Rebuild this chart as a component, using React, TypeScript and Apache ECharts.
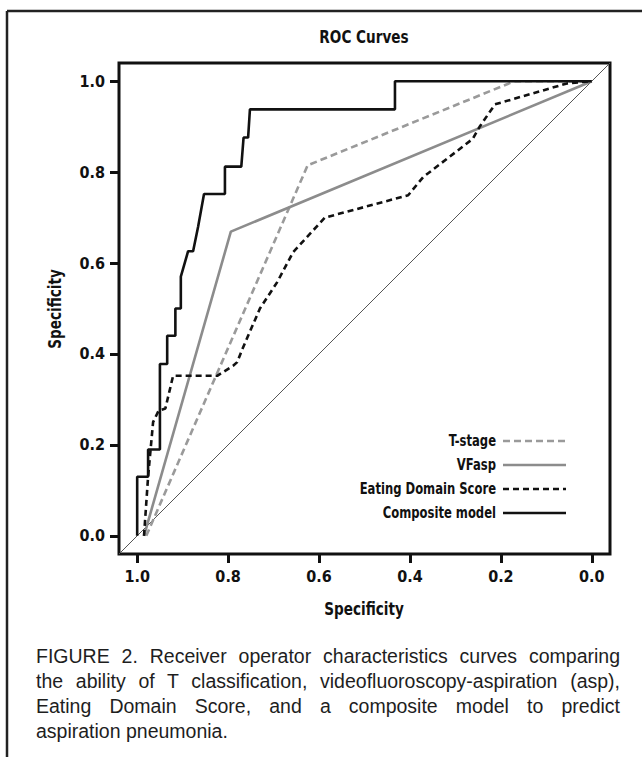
import React, { useEffect, useRef } from "react";
import * as echarts from "echarts";

const FONT = "'DejaVu Sans Condensed', 'DejaVu Sans', sans-serif";
const CAPTION_FONT = "'Liberation Sans', Arial, sans-serif";

const chartTitle = "ROC Curves";
const xAxisName = "Specificity";
const yAxisName = "Specificity";
const tickValues = [0, 0.2, 0.4, 0.6, 0.8, 1.0];

const seriesNames = ["T-stage", "VFasp", "Eating Domain Score", "Composite model"];

// [specificity (x, reversed), y]
const tStage = [
  [0.98, 0.0],
  [0.625, 0.815],
  [0.17, 1.0],
  [0.0, 1.0],
];

const vfAsp = [
  [0.985, 0.0],
  [0.794, 0.669],
  [0.0, 1.0],
];

const eatingDomain = [
  [0.985, 0.0],
  [0.976, 0.13],
  [0.965, 0.25],
  [0.953, 0.275],
  [0.938, 0.28],
  [0.921, 0.352],
  [0.824, 0.352],
  [0.789, 0.374],
  [0.78, 0.382],
  [0.769, 0.41],
  [0.73, 0.5],
  [0.692, 0.558],
  [0.657, 0.624],
  [0.587, 0.7],
  [0.404, 0.749],
  [0.371, 0.789],
  [0.319, 0.829],
  [0.262, 0.873],
  [0.246, 0.901],
  [0.213, 0.949],
  [0.055, 0.995],
  [0.0, 1.0],
];

const composite = [
  [1.0, 0.0],
  [1.0, 0.13],
  [0.976, 0.13],
  [0.976, 0.19],
  [0.95, 0.19],
  [0.95, 0.378],
  [0.934, 0.378],
  [0.934, 0.44],
  [0.916, 0.44],
  [0.916, 0.5],
  [0.904, 0.5],
  [0.904, 0.57],
  [0.888, 0.626],
  [0.877, 0.626],
  [0.866, 0.68],
  [0.853, 0.752],
  [0.807, 0.752],
  [0.807, 0.812],
  [0.771, 0.812],
  [0.766, 0.876],
  [0.756, 0.876],
  [0.752, 0.938],
  [0.433, 0.938],
  [0.433, 1.0],
  [0.0, 1.0],
];

const diagonal = [
  [1.04, -0.04],
  [-0.04, 1.04],
];

const captionLines = [
  "FIGURE 2. Receiver operator characteristics curves comparing",
  "the ability of T classification, videofluoroscopy-aspiration (asp),",
  "Eating Domain Score, and a composite model to predict",
  "aspiration pneumonia.",
];

const seriesStyles = [
  { color: "#9a9a9a", type: [7, 4] as any },
  { color: "#8c8c8c", type: "solid" as any },
  { color: "#111111", type: [6, 4] as any },
  { color: "#111111", type: "solid" as any },
];

export default function App() {
  const ref = useRef<HTMLDivElement>(null);

  useEffect(() => {
    if (!ref.current) return;
    const chart = echarts.init(ref.current, null, { renderer: "svg" });
    const dataSets = [tStage, vfAsp, eatingDomain, composite];

    const legendX = 496;
    const legendY0 = 441;
    const legendGap = 24;

    const legendGraphics: any[] = [];
    seriesNames.forEach((name, i) => {
      const y = legendY0 + i * legendGap;
      legendGraphics.push({
        type: "text",
        x: legendX,
        y,
        scaleX: 0.86,
        style: {
          text: name,
          font: `bold 15px ${FONT}`,
          fill: "#111",
          align: "right",
          verticalAlign: "middle",
        },
      });
      legendGraphics.push({
        type: "line",
        shape: { x1: legendX + 7, y1: y, x2: legendX + 70, y2: y },
        style: {
          stroke: seriesStyles[i].color,
          lineWidth: 2.5,
          lineDash: seriesStyles[i].type === "solid" ? null : seriesStyles[i].type,
        },
      });
    });

    const axisCommon = {
      type: "value",
      min: -0.04,
      max: 1.04,
      axisLine: { show: false, onZero: false },
      splitLine: { show: false },
      axisTick: {
        show: true,
        length: 9,
        customValues: tickValues,
        lineStyle: { width: 3, color: "#111" },
      },
      axisLabel: {
        customValues: tickValues,
        formatter: (v: number) => v.toFixed(1),
        fontFamily: FONT,
        fontWeight: "bold",
        fontSize: 16,
        color: "#111",
        margin: 14,
      },
    };

    chart.setOption({
      animation: false,
      backgroundColor: "#ffffff",
      grid: {
        show: true,
        left: 119,
        top: 63,
        width: 491,
        height: 491,
        borderColor: "#111",
        borderWidth: 3,
        backgroundColor: "transparent",
      },
      xAxis: { ...axisCommon, position: "bottom", inverse: true },
      yAxis: { ...axisCommon, position: "left" },
      series: [
        {
          name: "Reference",
          type: "line",
          data: diagonal,
          showSymbol: false,
          silent: true,
          lineStyle: { color: "#555", width: 1 },
          z: 1,
        },
        ...seriesNames.map((name, i) => ({
          name,
          type: "line",
          data: dataSets[i],
          showSymbol: false,
          lineStyle: { color: seriesStyles[i].color, width: 2.6, type: seriesStyles[i].type },
          z: 2 + i,
        })),
      ],
      graphic: [
        {
          type: "line",
          shape: { x1: 7, y1: 11, x2: 642, y2: 11 },
          style: { stroke: "#222", lineWidth: 2.5 },
        },
        {
          type: "line",
          shape: { x1: 7, y1: 11, x2: 7, y2: 757 },
          style: { stroke: "#222", lineWidth: 2.5 },
        },
        {
          type: "text",
          x: 364,
          y: 37,
          scaleX: 0.84,
          style: {
            text: chartTitle,
            font: `bold 18px ${FONT}`,
            fill: "#111",
            align: "center",
            verticalAlign: "middle",
          },
        },
        {
          type: "text",
          x: 364,
          y: 609,
          scaleX: 0.84,
          style: {
            text: xAxisName,
            font: `bold 18px ${FONT}`,
            fill: "#111",
            align: "center",
            verticalAlign: "middle",
          },
        },
        {
          type: "text",
          x: 55,
          y: 309,
          rotation: Math.PI / 2,
          scaleX: 0.84,
          style: {
            text: yAxisName,
            font: `bold 18px ${FONT}`,
            fill: "#111",
            align: "center",
            verticalAlign: "middle",
          },
        },
        ...legendGraphics,
      ],
    });

    return () => chart.dispose();
  }, []);

  return (
    <div style={{ position: "fixed", left: 0, top: 0, width: 642, height: 757, background: "#fff" }}>
      <div ref={ref} style={{ position: "absolute", left: 0, top: 0, width: 642, height: 757 }} />
      <div
        style={{
          position: "absolute",
          left: 36,
          top: 644,
          width: 584,
          fontFamily: CAPTION_FONT,
          fontSize: 19.5,
          lineHeight: "25px",
          color: "#1e1e1e",
        }}
      >
        {captionLines.map((line, i) => (
          <div
            key={i}
            style={{
              textAlign: "justify",
              textAlignLast: i < captionLines.length - 1 ? "justify" : "left",
              whiteSpace: "nowrap",
            } as any}
          >
            {line}
          </div>
        ))}
      </div>
    </div>
  );
}
